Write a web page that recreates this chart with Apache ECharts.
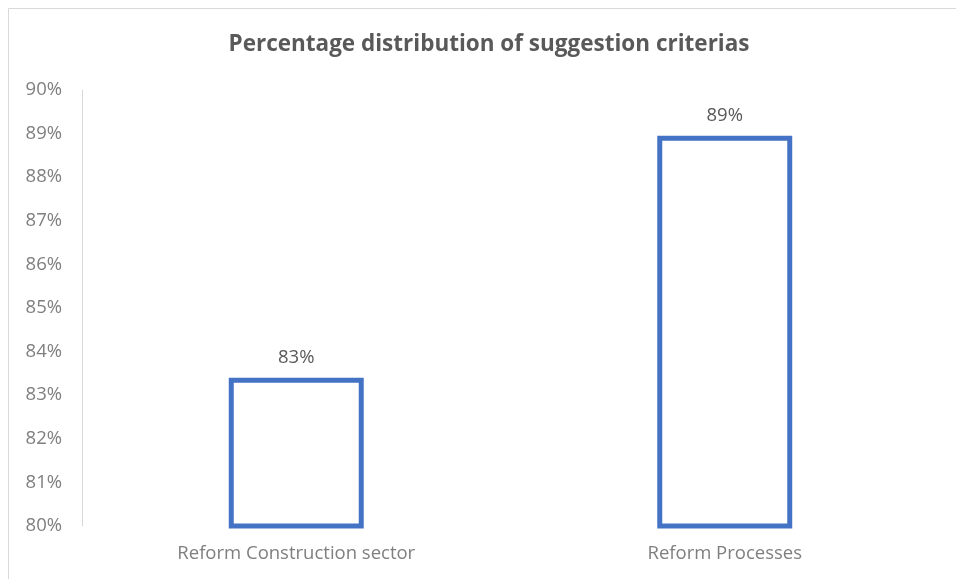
<!DOCTYPE html>
<html><head><meta charset="utf-8">
<script src="https://cdn.jsdelivr.net/npm/echarts@6/dist/echarts.min.js"></script>
<style>html,body{margin:0;padding:0;background:#fff}#c{width:956px;height:579px}</style>
</head><body><div id="c"></div>
<script>
const categories = ['Reform Construction sector', 'Reform Processes'];
const values = [83.4, 88.95];
const yTicks = [80, 81, 82, 83, 84, 85, 86, 87, 88, 89, 90];

const chart = echarts.init(document.getElementById('c'), null, {renderer: 'canvas'});
chart.setOption({
  animation: false,
  backgroundColor: '#fff',
  title: {
    text: 'Percentage distribution of suggestion criterias',
    left: 484, top: 28, textAlign: 'center',
    textStyle: {fontFamily: 'Open Sans', fontSize: 22.5, fontWeight: 'bold', color: '#595959'}
  },
  graphic: [{type: 'rect', shape: {x: 8.5, y: 8.5, width: 960, height: 600}, style: {fill: null, stroke: '#d9d9d9', lineWidth: 1}}],
  grid: {left: 82, right: 17, top: 90, bottom: 53, containLabel: false},
  xAxis: {
    type: 'category', data: categories,
    axisLine: {show: false}, axisTick: {show: false},
    axisLabel: {fontFamily: 'Open Sans', fontSize: 18.5, color: '#7f7f7f', margin: 18}
  },
  yAxis: {
    type: 'value', min: yTicks[0], max: yTicks[yTicks.length - 1], interval: 1,
    splitLine: {show: false},
    axisLine: {show: true, lineStyle: {color: '#d9d9d9', width: 1}},
    axisTick: {show: false},
    axisLabel: {fontFamily: 'Open Sans', fontSize: 18.5, color: '#7f7f7f', margin: 20, formatter: v => v + '%'}
  },
  series: [{
    type: 'bar', data: values, barWidth: '31.5%',
    itemStyle: {color: '#ffffff', borderColor: '#4472c4', borderWidth: 5},
    label: {show: true, position: 'top', distance: 11, fontFamily: 'Open Sans', fontSize: 18.5, color: '#595959',
      formatter: p => Math.round(p.value) + '%'}
  }]
});
</script></body></html>
